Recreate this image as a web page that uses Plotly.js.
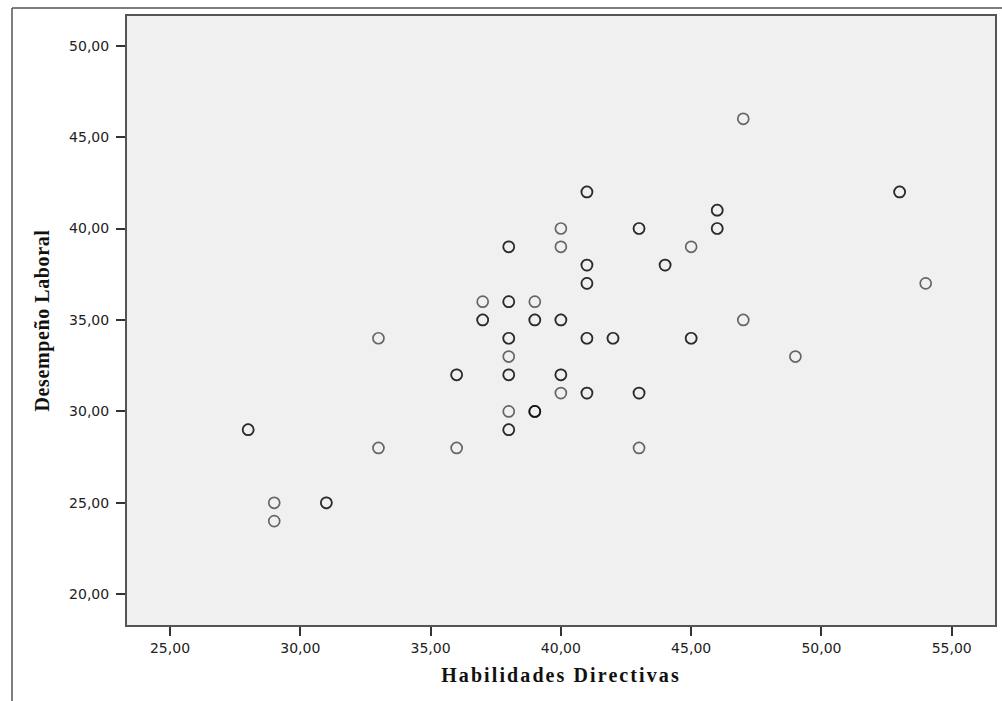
<!DOCTYPE html>
<html>
<head>
<meta charset="utf-8">
<script src="https://cdn.plot.ly/plotly-3.0.1.min.js"></script>
<style>
  html, body { margin: 0; padding: 0; background: #ffffff; }
  #chart { width: 1002px; height: 701px; }
  /* wider tracking on the axis titles */
  #chart .xtitle { letter-spacing: 2.1px; }
  #chart .ytitle { letter-spacing: 0.6px; }
</style>
</head>
<body>
<div id="chart"></div>
<script>
// Habilidades Directivas (x) vs. Desempeño Laboral (y); repeated pairs are listed once per case
const habilidades = [
  47, 40, 40, 45, 54, 37, 39, 47, 33, 38, 49, 40, 38, 33, 36, 43, 29, 29,
  41, 41, 53, 53, 43, 43, 46, 46, 46, 46, 38, 38, 41, 41, 44, 44, 41, 41,
  38, 38, 37, 37, 39, 39, 40, 40, 38, 38, 41, 41, 42, 42, 45, 45, 36, 36,
  38, 38, 40, 40, 41, 41, 43, 43, 39, 39, 39, 28, 28, 38, 38, 31, 31
];
const desempeno = [
  46, 40, 39, 39, 37, 36, 36, 35, 34, 33, 33, 31, 30, 28, 28, 28, 25, 24,
  42, 42, 42, 42, 40, 40, 40, 40, 41, 41, 39, 39, 38, 38, 38, 38, 37, 37,
  36, 36, 35, 35, 35, 35, 35, 35, 34, 34, 34, 34, 34, 34, 34, 34, 32, 32,
  32, 32, 32, 32, 31, 31, 31, 31, 30, 30, 30, 29, 29, 29, 29, 25, 25
];
const xTicks = [25, 30, 35, 40, 45, 50, 55];
const yTicks = [20, 25, 30, 35, 40, 45, 50];

const trace = {
  type: 'scatter',
  mode: 'markers',
  x: habilidades,
  y: desempeno,
  marker: {
    symbol: 'circle-open',
    size: 11,
    color: 'rgba(0,0,0,0.58)',
    line: { width: 1.7, color: 'rgba(0,0,0,0.58)' }
  },
  hoverinfo: 'x+y'
};

const tickFont = { family: 'DejaVu Sans, Verdana, sans-serif', size: 14, color: '#222222' };
const titleFont = { family: 'Liberation Serif, Times New Roman, serif', size: 20, color: '#111111', weight: 'bold' };

const layout = {
  width: 1002,
  height: 701,
  paper_bgcolor: '#ffffff',
  plot_bgcolor: '#f0f0f0',
  separators: ',.',
  showlegend: false,
  margin: { l: 127, r: 7, t: 16, b: 76 },
  xaxis: {
    range: [23.35, 56.66],
    tickvals: xTicks,
    tickformat: '.2f',
    ticks: 'outside',
    ticklen: 9,
    tickwidth: 2,
    tickcolor: '#333333',
    showgrid: false,
    zeroline: false,
    showline: true,
    linecolor: '#555555',
    linewidth: 2,
    mirror: true,
    tickfont: tickFont,
    title: { text: 'Habilidades Directivas', font: titleFont, standoff: 13 }
  },
  yaxis: {
    range: [18.32, 51.62],
    tickvals: yTicks,
    tickformat: '.2f',
    ticks: 'outside',
    ticklen: 9,
    tickwidth: 2,
    tickcolor: '#333333',
    ticklabelstandoff: 4,
    showgrid: false,
    zeroline: false,
    showline: true,
    linecolor: '#555555',
    linewidth: 2,
    mirror: true,
    tickfont: tickFont,
    title: { text: 'Desempeño Laboral', font: titleFont, standoff: 14 }
  },
  shapes: [
    // outer frame: top and left edges of the chart window
    { type: 'line', xref: 'paper', yref: 'paper', x0: -0.1325, x1: 1.01, y0: 1.0131, y1: 1.0131,
      line: { color: '#555555', width: 1.5 } },
    { type: 'line', xref: 'paper', yref: 'paper', x0: -0.1325, x1: -0.1325, y0: 1.0131, y1: -0.13,
      line: { color: '#555555', width: 1.5 } }
  ]
};

Plotly.newPlot('chart', [trace], layout, { displayModeBar: false, staticPlot: true });
</script>
</body>
</html>
